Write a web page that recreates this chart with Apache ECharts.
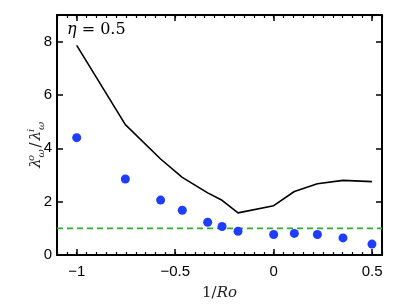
<!DOCTYPE html>
<html><head><meta charset="utf-8">
<script src="https://cdn.jsdelivr.net/npm/echarts@6/dist/echarts.min.js"></script>
<style>html,body{margin:0;padding:0;background:#fff}#c{width:407px;height:306px}</style>
</head><body><div id="c"></div>
<script>
var invRo = [-1, -0.753, -0.574, -0.464, -0.335, -0.262, -0.181, 0, 0.105, 0.222, 0.352, 0.499];
var lineVals = [7.86, 4.89, 3.60, 2.91, 2.33, 2.05, 1.58, 1.85, 2.38, 2.67, 2.80, 2.75];
var dotVals = [4.40, 2.85, 2.06, 1.68, 1.23, 1.07, 0.89, 0.77, 0.81, 0.77, 0.64, 0.41];
var refLevel = 1;
var xMajor = [-1, -0.5, 0, 0.5];
var yMajor = [0, 2, 4, 6, 8];

var lineData = invRo.map(function(x, i){ return [x, lineVals[i]]; });
var dotData = invRo.map(function(x, i){ return [x, dotVals[i]]; });

var chart = echarts.init(document.getElementById('c'));
var tickFont = {color:'#000', fontSize:15, fontFamily:'Liberation Sans, Arial, sans-serif'};
function fmtX(v){ return v < 0 ? '\u2212' + String(Math.abs(v)) : String(v); }
var xBase = {type:'value', min:-1.1, max:0.55, interval:0.05, splitLine:{show:false}};
var yBase = {type:'value', min:0, max:9, interval:1, splitLine:{show:false}};
var serif = 'DejaVu Serif, serif';
chart.setOption({
  animation:false,
  grid:{left:57, right:25, top:15, bottom:48},
  xAxis:[
    Object.assign({}, xBase, {position:'bottom',
      axisLine:{show:true, onZero:false, lineStyle:{color:'#000', width:2}},
      axisTick:{show:true, inside:true, length:3, lineStyle:{color:'#000', width:1.2}},
      axisLabel:Object.assign({show:true, margin:9, customValues:xMajor, formatter:fmtX}, tickFont),
      name:'{a|1/}{b|Ro}', nameLocation:'middle', nameGap:31,
      nameTextStyle:{rich:{a:{fontFamily:serif, fontSize:15, color:'#222'}, b:{fontFamily:serif, fontStyle:'italic', fontSize:15, color:'#222'}}}
    }),
    Object.assign({}, xBase, {position:'bottom',
      axisLine:{show:false, onZero:false}, axisLabel:{show:false},
      axisTick:{show:true, inside:true, length:6, customValues:xMajor, lineStyle:{color:'#000', width:1.5}}}),
    Object.assign({}, xBase, {position:'top',
      axisLine:{show:true, onZero:false, lineStyle:{color:'#000', width:2}}, axisLabel:{show:false},
      axisTick:{show:true, inside:true, length:3, lineStyle:{color:'#000', width:1.2}}}),
    Object.assign({}, xBase, {position:'top',
      axisLine:{show:false, onZero:false}, axisLabel:{show:false},
      axisTick:{show:true, inside:true, length:6, customValues:xMajor, lineStyle:{color:'#000', width:1.5}}})
  ],
  yAxis:[
    Object.assign({}, yBase, {position:'left',
      axisLine:{show:true, onZero:false, lineStyle:{color:'#000', width:2}},
      axisTick:{show:true, inside:true, length:6, customValues:yMajor, lineStyle:{color:'#000', width:1.5}},
      axisLabel:Object.assign({show:true, margin:5, customValues:yMajor}, tickFont)
    }),
    Object.assign({}, yBase, {position:'right',
      axisLine:{show:true, onZero:false, lineStyle:{color:'#000', width:2}},
      axisTick:{show:true, inside:true, length:6, customValues:yMajor, lineStyle:{color:'#000', width:1.5}},
      axisLabel:{show:false}})
  ],
  graphic:[
    {type:'text', left:67, top:22, style:{
      text:'{e|\u03b7}{r| = 0.5}',
      rich:{e:{fontFamily:serif, fontStyle:'italic', fontSize:16, fill:'#000'},
            r:{fontFamily:serif, fontSize:16, fill:'#000'}}}},
    {type:'text', x:36, y:145, rotation:Math.PI/2, style:{
      text:'{l|\u03bb}{sup|o}{sub|\u03c9}{n|/}{l|\u03bb}{sup|i}{sub|\u03c9}',
      align:'center', verticalAlign:'middle',
      rich:{
        l:{fontFamily:serif, fontStyle:'italic', fontSize:15, fill:'#222', lineHeight:20},
        sup:{fontFamily:serif, fontStyle:'italic', fontSize:10, fill:'#222', verticalAlign:'top', lineHeight:20, width:1},
        sub:{fontFamily:serif, fontStyle:'italic', fontSize:10, fill:'#222', verticalAlign:'bottom', lineHeight:20, width:8},
        n:{fontFamily:serif, fontSize:15, fill:'#222', lineHeight:20, padding:[0,2,0,2]}
      }}}
  ],
  series:[
    {type:'line', data:lineData, symbol:'none', lineStyle:{color:'#000', width:1.6}, z:3},
    {type:'scatter', data:dotData, symbol:'circle', symbolSize:9, itemStyle:{color:'#1f3dff', opacity:1}, z:4},
    {type:'line', data:[[-1.1, refLevel],[0.55, refLevel]], symbol:'none', lineStyle:{color:'#33aa33', width:1.6, type:[6,4]}, z:2}
  ]
});
</script></body></html>
